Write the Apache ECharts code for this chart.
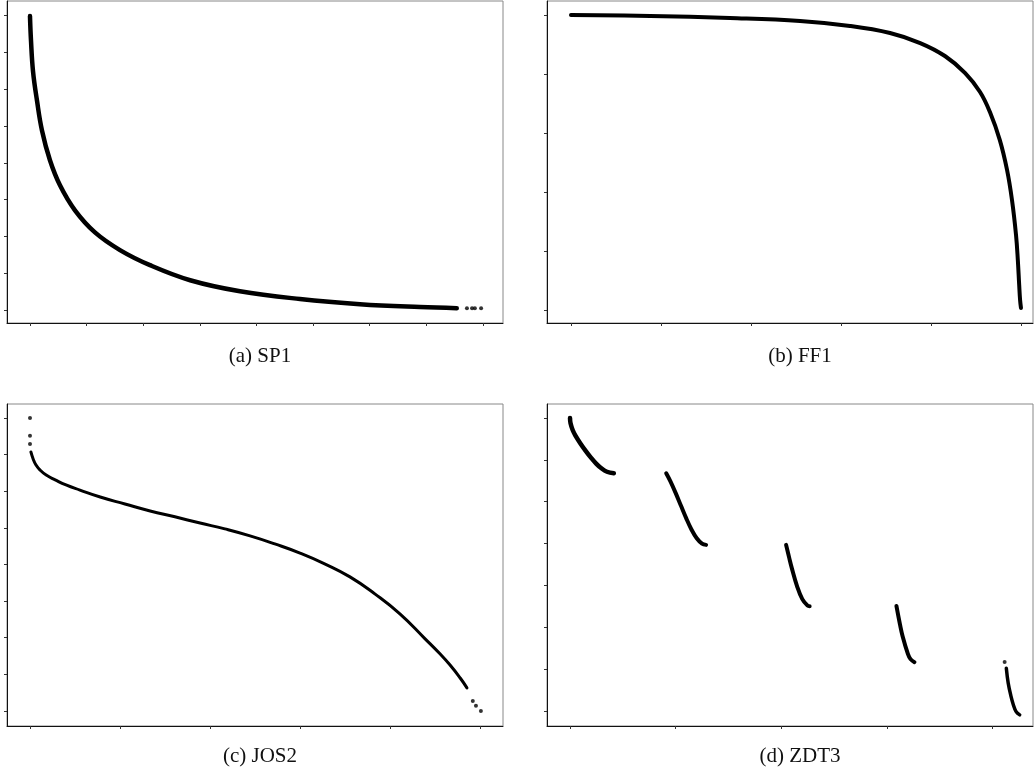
<!DOCTYPE html>
<html>
<head>
<meta charset="utf-8">
<script src="https://cdn.jsdelivr.net/npm/echarts@6/dist/echarts.min.js"></script>
<style>
  html, body { margin: 0; padding: 0; background: #fff; }
  #main { width: 1035px; height: 775px; }
</style>
</head>
<body>
<div id="main"></div>
<script>
  // (a) SP1 front (tick units)
  const spFront = [[0, 7.99], [0.018, 7.32], [0.053, 6.50], [0.124, 5.69], [0.212, 4.88], [0.353, 4.07],
    [0.53, 3.39], [0.795, 2.71], [1.148, 2.11], [1.59, 1.63], [2.12, 1.22], [2.83, 0.81], [3.71, 0.51],
    [4.77, 0.30], [5.83, 0.16], [6.89, 0.08], [7.54, 0.05]]
  const spTail = [[7.72, 0.05], [7.81, 0.05], [7.86, 0.05], [7.97, 0.05]]
  const spTicksX = [0, 1, 2, 3, 4, 5, 6, 7, 8]
  const spTicksY = [0, 1, 2, 3, 4, 5, 6, 7, 8]

  // (b) FF1
  const ffFront = [[0, 1.0], [0.176, 0.997], [0.353, 0.990], [0.509, 0.980], [0.62, 0.963], [0.709, 0.939],
    [0.776, 0.905], [0.831, 0.861], [0.876, 0.803], [0.909, 0.739], [0.931, 0.671], [0.953, 0.576],
    [0.969, 0.475], [0.98, 0.373], [0.989, 0.254], [0.993, 0.169], [0.996, 0.085], [0.998, 0.034], [1.0, 0.007]]
  const ffTicksX = [0, 0.2, 0.4, 0.6, 0.8, 1.0]
  const ffTicksY = [0, 0.2, 0.4, 0.6, 0.8, 1.0]

  // (c) JOS2
  const josFront = [[0.002, 7.07], [0.007, 6.88], [0.013, 6.72], [0.022, 6.58], [0.036, 6.44], [0.056, 6.31],
    [0.08, 6.17], [0.111, 6.03], [0.156, 5.84], [0.211, 5.65], [0.267, 5.46], [0.322, 5.30], [0.378, 5.13],
    [0.433, 4.97], [0.489, 4.78], [0.544, 4.56], [0.6, 4.31], [0.656, 4.01], [0.711, 3.66], [0.767, 3.19],
    [0.822, 2.65], [0.878, 1.97], [0.911, 1.56], [0.933, 1.26], [0.956, 0.90], [0.971, 0.63]]
  const josDots = [[0, 8.0], [0, 7.51], [0, 7.29], [0.984, 0.27], [0.991, 0.14], [1.002, 0.0]]
  const josTicksX = [0, 0.2, 0.4, 0.6, 0.8, 1.0]
  const josTicksY = [0, 1, 2, 3, 4, 5, 6, 7, 8]

  // (d) ZDT3, five disconnected pieces
  const zdtSeg1 = [[0, 1.0], [0.001, 0.968], [0.005, 0.9285], [0.01, 0.8969], [0.02, 0.8468], [0.03, 0.8025],
    [0.04, 0.762], [0.05, 0.7264], [0.06, 0.698], [0.07, 0.6788], [0.083, 0.6696]]
  const zdtSeg2 = [[0.1822, 0.6698], [0.19, 0.6228], [0.2, 0.5528], [0.21, 0.4768], [0.22, 0.4017],
    [0.23, 0.3343], [0.24, 0.2819], [0.25, 0.25], [0.2578, 0.2422]]
  const zdtSeg3 = [[0.4093, 0.2423], [0.415, 0.1674], [0.42, 0.105], [0.43, -0.0036], [0.44, -0.0817],
    [0.45, -0.1208], [0.4539, -0.1242]]
  const zdtSeg4 = [[0.6183, -0.1225], [0.625, -0.2325], [0.63, -0.3034], [0.64, -0.4087], [0.645, -0.4402],
    [0.6525, -0.4583]]
  const zdtSeg5 = [[0.8265, -0.495], [0.83, -0.5825], [0.835, -0.658], [0.84, -0.7153],
    [0.845, -0.7538], [0.8518, -0.7733]]
  const zdtDots = [[0.8233, -0.4579]]
  const zdtTicksX = [0, 0.2, 0.4, 0.6, 0.8]
  const zdtTicksY = [-0.75, -0.5, -0.25, 0, 0.25, 0.5, 0.75, 1.0]

  const captions = ['(a) SP1', '(b) FF1', '(c) JOS2', '(d) ZDT3']

  let myChart = echarts.init(document.getElementById('main'))

  function makeAxis(idx, min, max, ticks) {
    return {
      type: 'value',
      gridIndex: idx,
      min: min,
      max: max,
      axisLine: {show: true, onZero: false, lineStyle: {color: '#111', width: 1}},
      axisTick: {show: true, inside: false, length: 3, customValues: ticks, lineStyle: {color: '#333'}},
      axisLabel: {show: false},
      splitLine: {show: false}
    }
  }

  function curve(idx, data, w, sm) {
    return {
      type: 'line', xAxisIndex: idx, yAxisIndex: idx, data: data,
      symbol: 'none', smooth: sm || 0.4, silent: true,
      lineStyle: {color: '#000', width: w, cap: 'round', join: 'round'}
    }
  }

  function dots(idx, data, s) {
    return {
      type: 'scatter', xAxisIndex: idx, yAxisIndex: idx, data: data,
      symbolSize: s, itemStyle: {color: '#000'}, silent: true
    }
  }

  let gridBox = {show: true, borderColor: '#888', borderWidth: 1, backgroundColor: '#fff'}
  let option = {
    animation: false,
    backgroundColor: '#fff',
    title: [
      {text: captions[0], left: 255, top: 341},
      {text: captions[1], left: 795, top: 341},
      {text: captions[2], left: 255, top: 741},
      {text: captions[3], left: 795, top: 741}
    ].map(t => Object.assign(t, {
      textAlign: 'center',
      textStyle: {fontFamily: 'Liberation Serif', fontSize: 21, fontWeight: 'normal', color: '#111'}
    })),
    grid: [
      Object.assign({left: 7, top: 1, width: 496, height: 322}, gridBox),
      Object.assign({left: 547, top: 1, width: 486, height: 322}, gridBox),
      Object.assign({left: 7, top: 404, width: 496, height: 322}, gridBox),
      Object.assign({left: 547, top: 404, width: 486, height: 322}, gridBox)
    ],
    xAxis: [
      makeAxis(0, -0.406, 8.357, spTicksX),
      makeAxis(1, -0.0533, 1.0267, ffTicksX),
      makeAxis(2, -0.0511, 1.0511, josTicksX),
      makeAxis(3, -0.0436, 0.877, zdtTicksX)
    ],
    yAxis: [
      makeAxis(0, -0.352, 8.40, spTicksY),
      makeAxis(1, -0.044, 1.0475, ffTicksY),
      makeAxis(2, -0.41, 8.38, josTicksY),
      makeAxis(3, -0.8396, 1.0836, zdtTicksY)
    ],
    series: [
      curve(0, spFront, 4.5),
      dots(0, spTail, 4),
      curve(1, ffFront, 4),
      curve(2, josFront, 3, 0.5),
      dots(2, josDots, 4),
      curve(3, zdtSeg1, 4.5),
      curve(3, zdtSeg2, 4),
      curve(3, zdtSeg3, 4),
      curve(3, zdtSeg4, 4),
      curve(3, zdtSeg5, 3.5),
      dots(3, zdtDots, 4)
    ]
  }
  myChart.setOption(option)
</script>
</body>
</html>
